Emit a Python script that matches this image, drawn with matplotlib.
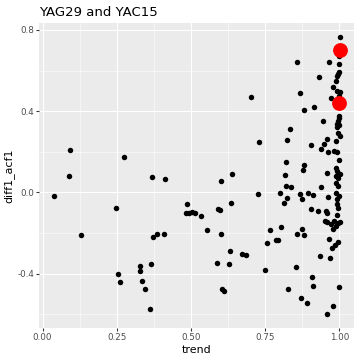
import numpy as np
import matplotlib
matplotlib.use("Agg")
from matplotlib import pyplot as plt
from matplotlib.ticker import FixedLocator

# scatter values
trend = [0.094, 0.276, 0.089, 0.370, 0.414, 0.037, 0.247, 0.130, 0.372, 0.386,
         0.410, 0.486, 0.483, 0.492, 0.503, 0.515, 0.534, 0.329, 0.328, 0.366,
         0.253, 0.261, 0.334, 0.344, 0.361, 0.640, 0.600, 0.726, 0.636, 0.590,
         0.597, 0.554, 0.600, 0.633, 0.673, 0.685, 0.589, 0.628, 0.751, 0.605,
         0.610, 0.765, 0.756, 0.785, 0.793, 0.802, 0.828, 0.853, 0.817, 0.820,
         0.838, 0.800, 0.824, 0.812, 1.002, 0.999, 0.858, 0.966, 0.999, 0.930,
         0.868, 0.701, 0.880, 0.916, 0.835, 0.944, 0.728, 0.824, 0.906, 0.958,
         0.950, 0.939, 0.961, 0.820, 0.881, 0.876, 0.959, 1.000, 0.997, 0.992,
         0.989, 0.980, 0.992, 1.002, 0.973, 0.998, 0.998, 1.000, 0.996, 0.991,
         0.998, 0.992, 0.997, 1.001, 0.990, 0.982, 0.992, 0.998, 0.989, 0.993,
         1.001, 0.988, 0.997, 0.990, 0.996, 0.939, 0.894, 0.912, 0.963, 0.988,
         1.000, 0.992, 0.991, 0.996, 0.903, 0.927, 0.954, 0.958, 0.992, 0.960,
         0.971, 0.982, 0.995, 1.001, 0.989, 0.980, 0.869, 0.874, 0.875, 0.859,
         0.881, 0.965, 0.936, 0.970, 0.975, 0.986, 0.996, 0.907, 0.912, 1.000,
         0.872, 0.891, 0.978, 0.960, 0.953]
diff1_acf1 = [0.209, 0.173, 0.083, 0.075, 0.066, -0.017, -0.075, -0.209, -0.218, -0.204,
              -0.206, -0.057, -0.102, -0.102, -0.096, -0.102, -0.115, -0.364, -0.385, -0.351,
              -0.403, -0.441, -0.436, -0.475, -0.571, 0.090, 0.057, -0.007, -0.050, -0.081,
              -0.088, -0.185, -0.203, -0.290, -0.305, -0.309, -0.349, -0.351, -0.383, -0.475,
              -0.487, -0.183, -0.249, -0.236, -0.234, -0.170, -0.477, -0.367, 0.085, 0.034,
              0.029, -0.002, -0.026, -0.052, 0.767, 0.672, 0.643, 0.643, 0.631, 0.566,
              0.490, 0.469, 0.406, 0.421, 0.314, 0.352, 0.249, 0.260, 0.235, 0.265,
              0.239, 0.213, 0.198, 0.152, 0.137, 0.109, 0.095, 0.592, 0.582, 0.574,
              0.546, 0.521, 0.501, 0.492, 0.466, 0.475, 0.378, 0.368, 0.351, 0.339,
              0.333, 0.321, 0.292, 0.280, 0.252, 0.206, 0.201, 0.160, 0.122, 0.107,
              0.093, 0.081, 0.070, 0.045, 0.034, 0.026, -0.004, -0.012, -0.022, -0.004,
              -0.017, -0.034, -0.058, -0.078, -0.081, -0.091, -0.090, -0.100, -0.111, -0.144,
              -0.154, -0.140, -0.150, -0.144, -0.165, -0.178, -0.007, -0.032, -0.178, -0.204,
              -0.211, -0.228, -0.311, -0.321, -0.272, -0.257, -0.244, -0.416, -0.462, -0.464,
              -0.520, -0.543, -0.558, -0.600, -0.140]

# highlighted series
hl_trend = [1.001, 0.998]
hl_acf = [0.703, 0.441]

x_ticks = [0.0, 0.25, 0.5, 0.75, 1.0]
x_ticklabels = ["0.00", "0.25", "0.50", "0.75", "1.00"]
y_ticks = [-0.4, 0.0, 0.4, 0.8]
y_ticklabels = ["-0.4", "0.0", "0.4", "0.8"]

fig = plt.figure(figsize=(5, 5), dpi=72)
ax = fig.add_axes([0.109, 0.088, 0.875, 0.849])
ax.set_facecolor("#EBEBEB")
for s in ax.spines.values():
    s.set_visible(False)

ax.scatter(trend, diff1_acf1, s=30, color="black", linewidths=0, zorder=3)
ax.scatter(hl_trend, hl_acf, s=220, color="red", linewidths=0, zorder=4)

# ggplot-like 5% expansion
allx = trend + hl_trend
ally = diff1_acf1 + hl_acf
xr = max(allx) - min(allx)
yr = max(ally) - min(ally)
ax.set_xlim(min(allx) - 0.05 * xr, max(allx) + 0.05 * xr)
ax.set_ylim(min(ally) - 0.05 * yr, max(ally) + 0.05 * yr)

ax.set_xticks(x_ticks)
ax.set_xticklabels(x_ticklabels)
ax.set_yticks(y_ticks)
ax.set_yticklabels(y_ticklabels)
ax.xaxis.set_minor_locator(FixedLocator([-0.125, 0.125, 0.375, 0.625, 0.875]))
ax.yaxis.set_minor_locator(FixedLocator([-0.6, -0.2, 0.2, 0.6]))
ax.grid(which="major", color="white", linewidth=1.07, zorder=0)
ax.grid(which="minor", color="white", linewidth=0.53, zorder=0)
ax.set_axisbelow(True)
ax.tick_params(which="major", length=2.75, width=1.07, color="#333333",
               labelsize=8.8, labelcolor="#4D4D4D", pad=2.2)
ax.tick_params(which="minor", length=0)

ax.set_xlabel("trend", fontsize=11, labelpad=3)
ax.set_ylabel("diff1_acf1", fontsize=11, labelpad=3)
fig.text(0.109, 0.966, "YAG29 and YAC15", fontsize=13.2, ha="left", va="center")

fig.savefig("out.png", dpi=72)
